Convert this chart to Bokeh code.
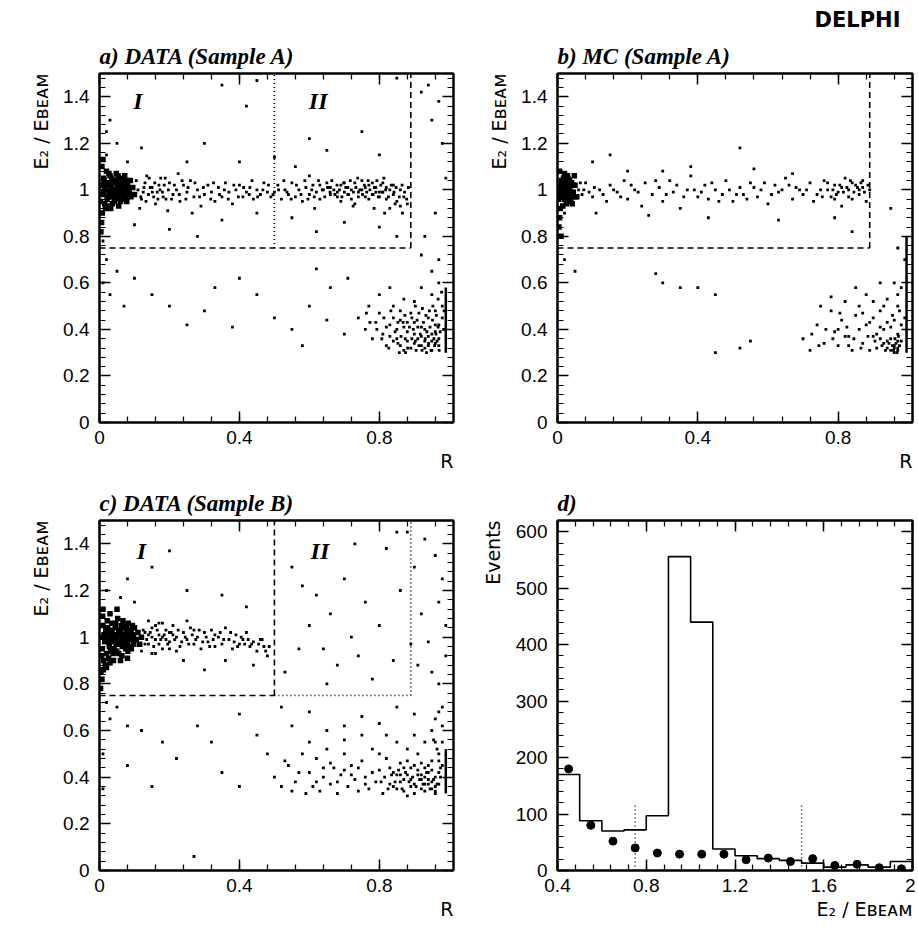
from bokeh.plotting import figure
from bokeh.models import Range1d, LinearAxis, SingleIntervalTicker, CustomJSTickFormatter, Title
from bokeh.layouts import gridplot
from bokeh.embed import file_html
from bokeh.resources import INLINE
from bokeh.core.properties import value

# ---------------- data ----------------
cut_E = 0.75
cut_R = 0.89
cut_R2 = 0.5
E_max = 1.5

# panel a) DATA (Sample A): (R, E2/Ebeam)
a_core = [(0.005,1.02),(0.01,0.98),(0.012,1.05),(0.015,0.94),(0.018,1.0),(0.02,1.08),(0.022,0.96),(0.025,1.03),(0.028,0.99),(0.03,1.06),(0.032,0.92),(0.035,1.01),(0.038,0.97),(0.04,1.04),(0.042,0.95),(0.045,1.0),(0.048,1.07),(0.05,0.98),(0.052,1.02),(0.055,0.93),(0.058,1.05),(0.06,0.99),(0.062,1.01),(0.065,0.96),(0.068,1.03),(0.07,0.98),(0.072,1.06),(0.075,1.0),(0.078,0.95),(0.08,1.02),(0.085,0.99),(0.088,1.04),(0.09,0.97),(0.095,1.01),(0.1,0.98),(0.008,0.9),(0.006,0.86),(0.004,0.82),(0.003,0.95),(0.007,1.1),(0.01,1.13),(0.015,1.01),(0.025,0.97),(0.035,1.05),(0.045,0.96),(0.055,1.0),(0.065,1.04),(0.012,0.99),(0.02,1.02),(0.03,0.99),(0.04,1.0),(0.05,1.04),(0.06,0.95),(0.07,1.01),(0.08,0.97),(0.017,0.92),(0.027,1.07),(0.037,0.94),(0.047,1.03),(0.057,0.97),(0.067,0.99),(0.077,1.04),(0.013,1.04),(0.023,0.93),(0.033,1.02),(0.043,0.98),(0.053,1.06),(0.063,1.02),(0.073,0.96),(0.083,1.0)]
a_band = [(0.11,1.0),(0.12,0.96),(0.13,1.03),(0.14,0.98),(0.15,1.01),(0.16,0.94),(0.17,1.02),(0.18,0.99),(0.19,0.96),(0.2,1.03),(0.21,0.98),(0.22,1.0),(0.23,0.95),(0.24,1.02),(0.25,0.99),(0.26,1.04),(0.27,0.97),(0.28,1.0),(0.29,0.93),(0.3,0.98),(0.31,1.02),(0.32,0.99),(0.33,0.95),(0.34,1.01),(0.35,0.97),(0.36,1.03),(0.37,0.99),(0.38,0.94),(0.39,1.0),(0.4,1.02),(0.41,0.97),(0.42,0.99),(0.43,1.01),(0.44,0.96),(0.45,1.0),(0.46,0.98),(0.47,1.03),(0.48,0.99),(0.49,0.97),(0.115,0.92),(0.135,1.06),(0.155,0.97),(0.175,1.05),(0.125,0.99),(0.145,1.01),(0.165,0.99),(0.185,1.02),(0.195,0.91),(0.225,1.07),(0.265,0.9),
          (0.5,0.99),(0.51,1.02),(0.52,0.96),(0.53,1.0),(0.54,0.98),(0.55,1.03),(0.56,0.97),(0.57,1.0),(0.58,0.95),(0.59,1.01),(0.6,0.98),(0.61,1.02),(0.62,0.99),(0.63,0.96),(0.64,1.0),(0.65,1.03),(0.66,0.98),(0.67,1.0),(0.68,0.97),(0.69,1.02),(0.7,0.99),(0.71,1.01),(0.72,0.96),(0.73,1.03),(0.74,0.99),(0.75,1.0),(0.76,0.97),(0.77,1.02),(0.78,0.98),(0.79,1.01),(0.8,0.99),(0.81,1.03),(0.82,0.96),(0.83,1.0),(0.84,0.98),(0.85,0.95),(0.86,1.0),(0.87,0.97),(0.88,0.94),(0.66,1.01),(0.68,0.99),(0.7,1.03),(0.72,1.0),(0.74,0.97),(0.76,1.01),(0.78,1.03),(0.8,0.97),(0.82,1.01),(0.84,1.02),(0.79,0.99),(0.75,1.04),(0.71,0.98),(0.63,1.02),(0.69,0.95),(0.77,0.96),(0.81,0.99),(0.86,0.93),(0.6,1.06),(0.83,0.92),(0.73,0.94)]
a_band_extra = [(0.105,1.04),(0.118,0.97),(0.127,1.01),(0.133,0.95),(0.142,1.05),(0.151,0.99),(0.158,1.03),(0.167,0.96),(0.173,1.0),(0.182,0.97),(0.188,1.05),(0.197,1.0),(0.206,0.96),(0.214,1.02),(0.228,0.98),(0.236,1.04),(0.247,0.96),(0.253,1.01),(0.273,1.03),(0.286,0.97),(0.297,1.01),(0.318,0.96),(0.326,1.03),(0.343,0.98),(0.357,1.0),(0.368,0.96),(0.384,1.02),(0.397,0.97),(0.412,1.01),(0.428,0.98),(0.436,1.04),(0.452,0.97),(0.467,1.0),(0.483,1.02),(0.496,0.98),(0.512,1.0),(0.527,1.04),(0.536,0.99),(0.548,0.96),(0.563,1.02),(0.576,0.98),(0.587,1.04),(0.596,0.96),(0.607,1.0),(0.614,0.97),(0.626,1.04),(0.637,1.0),(0.644,0.97),(0.652,1.01),(0.659,0.99),(0.664,1.04),(0.673,0.98),(0.679,1.02),(0.686,1.0),(0.693,0.97),(0.698,1.03),(0.704,1.01),(0.712,0.98),(0.717,1.04),(0.726,0.99),(0.733,1.01),(0.738,1.05),(0.744,1.0),(0.752,0.98),(0.757,1.02),(0.764,0.99),(0.768,1.04),(0.773,1.0),(0.782,0.98),(0.786,1.01),(0.793,1.04),(0.797,0.97),(0.804,1.02),(0.808,0.99),(0.813,1.05),(0.818,1.0),(0.826,0.97),(0.834,1.02),(0.842,0.99),(0.848,1.01),(0.857,0.97),(0.865,1.02),(0.872,0.99),(0.878,0.96),(0.883,1.01),(0.725,0.93),(0.785,0.92),(0.845,0.94),(0.615,0.92),(0.815,0.9),(0.866,0.9)]
a_low = [(0.74,0.45),(0.76,0.4),(0.77,0.5),(0.78,0.36),(0.79,0.43),(0.8,0.47),(0.81,0.38),(0.82,0.33),(0.83,0.42),(0.84,0.5),(0.85,0.36),(0.86,0.44),(0.87,0.31),(0.88,0.39),(0.89,0.47),(0.9,0.34),(0.91,0.41),(0.92,0.37),(0.93,0.32),(0.94,0.45),(0.95,0.35),(0.96,0.39),(0.97,0.33),(0.96,0.42),(0.95,0.31),(0.94,0.37),(0.93,0.4),(0.92,0.33),(0.91,0.36),(0.9,0.43),(0.89,0.32),(0.88,0.35),(0.87,0.41),(0.86,0.33),(0.85,0.4),(0.84,0.35),(0.83,0.37),(0.97,0.36),(0.96,0.34),(0.95,0.38),(0.94,0.33),(0.93,0.35),(0.92,0.41),(0.9,0.38),(0.88,0.43),(0.86,0.48),(0.84,0.45),(0.82,0.41),(0.8,0.55),(0.83,0.58),(0.9,0.52),(0.95,0.55),(0.97,0.6),(0.92,0.58),(0.87,0.53),(0.96,0.48),(0.98,0.45),(0.98,0.5),(0.97,0.42),(0.935,0.3),(0.905,0.31),(0.875,0.3)]
a_low_extra = [(0.845,0.39),(0.853,0.34),(0.862,0.37),(0.868,0.43),(0.874,0.36),(0.881,0.32),(0.886,0.41),(0.893,0.36),(0.897,0.4),(0.903,0.35),(0.908,0.44),(0.913,0.33),(0.917,0.38),(0.922,0.31),(0.926,0.43),(0.931,0.36),(0.936,0.39),(0.941,0.34),(0.945,0.41),(0.948,0.31),(0.952,0.44),(0.956,0.36),(0.958,0.33),(0.962,0.38),(0.965,0.35),(0.968,0.41),(0.971,0.31),(0.974,0.39),(0.963,0.46),(0.953,0.5),(0.943,0.48),(0.933,0.46),(0.923,0.49),(0.913,0.47),(0.903,0.5),(0.893,0.45),(0.873,0.46),(0.853,0.43),(0.833,0.48),(0.813,0.45),(0.793,0.4),(0.773,0.43),(0.763,0.47),(0.807,0.36),(0.827,0.32),(0.857,0.3),(0.968,0.53),(0.978,0.56),(0.985,0.48),(0.984,0.4)]
a_sparse = [(0.02,1.25),(0.05,1.2),(0.12,1.18),(0.3,1.2),(0.4,1.12),(0.45,1.47),(0.35,1.45),(0.42,1.36),(0.6,1.22),(0.75,1.25),(0.56,1.1),(0.65,1.17),(0.8,1.15),(0.85,1.48),(0.92,1.42),(0.95,1.3),(0.98,1.2),(0.94,1.45),(0.97,1.38),(0.99,1.05),(0.96,0.9),(0.93,0.8),(0.97,0.7),(0.95,0.65),(0.92,0.72),(0.02,1.15),(0.03,1.3),(0.08,1.12),(0.25,1.12),(0.5,1.14),
            (0.1,0.85),(0.2,0.83),(0.35,0.87),(0.55,0.88),(0.62,0.82),(0.7,0.86),(0.8,0.84),(0.85,0.8),(0.45,0.9),(0.28,0.8),
            (0.02,0.7),(0.05,0.65),(0.1,0.62),(0.15,0.55),(0.2,0.5),(0.3,0.48),(0.33,0.58),(0.4,0.62),(0.45,0.55),(0.5,0.45),(0.55,0.4),(0.6,0.5),(0.65,0.44),(0.7,0.38),(0.66,0.58),(0.07,0.5),(0.25,0.42),(0.38,0.41),(0.58,0.33),(0.62,0.66),(0.71,0.62),(0.01,0.78),(0.01,0.6),(0.03,0.55)]
a_pile = (0.99, 0.30, 0.58)   # R = 1 pile-up: R, E from, E to

# panel b) MC (Sample A)
b_core = [(0.005,1.0),(0.01,0.97),(0.012,1.04),(0.015,0.93),(0.018,1.01),(0.02,1.07),(0.022,0.98),(0.025,1.02),(0.028,0.95),(0.03,1.05),(0.032,0.99),(0.035,1.01),(0.038,0.96),(0.04,1.03),(0.045,0.99),(0.05,1.02),(0.055,0.97),(0.006,1.08),(0.008,0.92),(0.01,1.02),(0.014,0.99),(0.017,1.05),(0.02,0.96),(0.024,1.0),(0.027,1.03),(0.03,0.97),(0.034,1.04),(0.042,0.94),(0.048,1.06),(0.006,0.88),(0.004,0.84),(0.01,0.8),(0.003,0.96),(0.015,0.97),(0.02,1.0),(0.025,0.94),(0.03,1.0),(0.035,0.97),(0.04,0.99),(0.012,1.01),(0.008,0.98),(0.045,1.02),(0.05,0.97),(0.028,1.06),(0.016,1.03)]
b_band = [(0.06,1.0),(0.07,0.98),(0.08,1.03),(0.1,0.97),(0.12,1.0),(0.14,0.95),(0.15,1.02),(0.17,0.99),(0.19,1.04),(0.2,0.96),(0.22,1.0),(0.24,0.93),(0.25,1.03),(0.27,0.98),(0.29,1.01),(0.3,0.95),(0.32,1.04),(0.33,0.99),(0.35,0.92),(0.37,1.0),(0.38,1.06),(0.4,0.97),(0.42,1.02),(0.43,0.96),(0.45,1.0),(0.47,0.98),(0.48,1.04),(0.5,0.95),(0.52,1.01),(0.53,0.98),(0.55,1.03),(0.57,0.97),(0.58,1.0),(0.6,0.94),(0.62,1.02),(0.63,0.99),(0.65,1.05),(0.67,0.96),(0.68,1.01),(0.7,0.98),(0.72,1.03),(0.73,0.95),(0.75,1.0),(0.76,1.04),(0.78,0.97),(0.79,1.02),(0.8,0.99),(0.81,0.93),(0.82,1.05),(0.83,1.0),(0.84,0.96),(0.85,1.02),(0.86,0.98),(0.87,1.04),(0.88,0.95),(0.89,1.0),(0.77,1.0),(0.81,1.01),(0.84,1.03),(0.86,1.0),(0.74,0.98),(0.69,1.0),(0.79,0.96),(0.83,0.97),(0.87,1.01),(0.11,0.9),(0.26,0.89),(0.43,0.88),(0.63,0.87),(0.79,0.88),(0.84,0.82),(0.1,1.12),(0.15,1.15),(0.38,1.1),(0.52,1.18),(0.3,1.08),(0.56,1.09),(0.67,1.07),(0.2,1.08),
          (0.065,1.03),(0.075,1.0),(0.09,0.99),(0.105,1.01),(0.13,0.98),(0.16,1.0),(0.18,0.97),(0.21,1.02),(0.23,0.99),(0.28,1.04),(0.31,0.98),(0.34,1.02),(0.36,0.97),(0.39,1.0),(0.41,0.99),(0.44,1.03),(0.46,0.95),(0.49,1.0),(0.51,0.98),(0.54,0.96),(0.56,1.01),(0.59,1.03),(0.61,0.98),(0.64,1.0),(0.66,1.02),(0.71,1.0),(0.755,0.97),(0.77,1.03),(0.785,1.0),(0.795,0.98),(0.805,1.02),(0.815,0.99),(0.825,1.01),(0.835,1.04),(0.845,0.99),(0.855,1.01),(0.865,1.03),(0.875,0.99),(0.885,1.02)]
b_low = [(0.7,0.36),(0.72,0.31),(0.74,0.42),(0.76,0.34),(0.78,0.48),(0.79,0.39),(0.8,0.33),(0.81,0.44),(0.82,0.52),(0.83,0.37),(0.84,0.31),(0.85,0.46),(0.86,0.4),(0.87,0.34),(0.88,0.55),(0.89,0.43),(0.9,0.37),(0.91,0.32),(0.92,0.48),(0.93,0.4),(0.94,0.35),(0.95,0.31),(0.96,0.44),(0.97,0.38),(0.96,0.33),(0.95,0.36),(0.97,0.32),(0.94,0.32),(0.93,0.34),(0.96,0.3),(0.98,0.35),(0.97,0.5),(0.98,0.58),(0.96,0.6),(0.92,0.6),(0.85,0.58),(0.78,0.54),(0.75,0.5),(0.9,0.52),(0.99,0.45),(0.8,0.4),(0.87,0.47),(0.94,0.53),(0.83,0.33),(0.89,0.31),(0.92,0.36),(0.95,0.41),(0.97,0.35),(0.91,0.38),
         (0.955,0.33),(0.96,0.32),(0.965,0.34),(0.97,0.31),(0.975,0.33),(0.962,0.36),(0.968,0.3),(0.972,0.37),(0.958,0.31),(0.945,0.34),(0.935,0.31),(0.925,0.33),(0.905,0.35),(0.885,0.37),(0.865,0.32),(0.845,0.36),(0.825,0.41),(0.805,0.47),(0.785,0.36),(0.765,0.4),(0.745,0.33),(0.725,0.38),(0.98,0.42),(0.975,0.48),(0.97,0.55),(0.955,0.46),(0.94,0.43),(0.92,0.41),(0.88,0.42),(0.86,0.5),(0.82,0.37),(0.9,0.45),(0.93,0.5)]
b_sparse = [(0.02,0.7),(0.05,0.65),(0.3,0.6),(0.28,0.64),(0.35,0.58),(0.45,0.55),(0.4,0.58),(0.55,0.35),(0.52,0.32),(0.45,0.3),(0.97,0.75),(0.95,0.92),(0.02,0.9),(0.99,0.7)]
b_pile = (0.995, 0.30, 0.80)

# panel c) DATA (Sample B)
c_core = [(0.005,1.0),(0.008,0.95),(0.01,1.05),(0.012,0.9),(0.015,0.98),(0.018,1.03),(0.02,0.93),(0.022,1.07),(0.025,1.0),(0.028,0.96),(0.03,1.02),(0.032,0.94),(0.035,1.06),(0.038,0.99),(0.04,1.01),(0.042,0.95),(0.045,1.04),(0.048,0.97),(0.05,1.0),(0.052,1.08),(0.055,0.93),(0.058,1.02),(0.06,0.98),(0.062,1.05),(0.065,0.96),(0.068,1.01),(0.07,0.99),(0.072,1.04),(0.075,0.95),(0.078,1.02),(0.08,0.98),(0.082,1.06),(0.085,1.0),(0.088,0.96),(0.09,1.03),(0.092,0.99),(0.095,1.01),(0.098,0.97),(0.1,1.04),(0.105,0.99),(0.11,1.02),(0.115,0.97),(0.12,1.0),(0.006,0.92),(0.009,1.09),(0.013,1.01),(0.016,0.88),(0.019,0.99),(0.023,1.04),(0.026,0.91),(0.029,1.0),(0.033,0.98),(0.036,1.03),(0.039,0.93),(0.043,1.0),(0.046,1.06),(0.049,0.94),(0.053,1.01),(0.057,0.97),(0.061,1.03),(0.064,0.92),(0.067,1.07),(0.071,1.0),(0.074,0.97),(0.077,1.05),(0.081,0.94),(0.084,1.02),(0.087,0.99),(0.091,0.95),(0.094,1.05),(0.097,1.0),(0.004,0.85),(0.007,0.82),(0.003,0.78),(0.011,0.86),(0.02,0.87),(0.03,0.89),(0.04,0.9),(0.01,1.12),(0.03,1.1),(0.05,1.12),(0.015,1.01),(0.025,0.98),(0.035,1.01),(0.045,0.99),(0.055,1.03),(0.065,1.0),(0.075,0.99),(0.085,1.03),(0.06,0.9),(0.08,0.91)]
c_band = [(0.13,1.02),(0.14,0.97),(0.15,1.04),(0.16,0.99),(0.17,1.01),(0.18,0.95),(0.19,1.03),(0.2,0.98),(0.21,1.05),(0.22,1.0),(0.23,0.96),(0.24,1.02),(0.25,0.99),(0.26,1.04),(0.27,0.97),(0.28,1.0),(0.29,0.95),(0.3,1.02),(0.31,0.98),(0.32,1.03),(0.33,0.96),(0.34,1.0),(0.35,0.97),(0.36,1.04),(0.37,0.99),(0.38,0.95),(0.39,1.01),(0.4,0.97),(0.41,0.99),(0.42,1.02),(0.43,0.96),(0.44,0.98),(0.45,0.94),(0.46,0.99),(0.47,0.96),(0.48,0.92),(0.14,1.07),(0.16,0.93),(0.18,1.06),(0.2,1.02),(0.22,0.94),(0.25,1.07),(0.15,1.0),(0.17,0.97),(0.19,0.99),(0.21,1.01),(0.27,1.03),(0.33,1.01),(0.12,0.94),(0.24,0.9),(0.36,0.9),(0.44,0.88),(0.3,0.86),
          (0.125,1.03),(0.135,0.99),(0.145,1.02),(0.155,0.96),(0.165,1.03),(0.175,0.99),(0.185,1.01),(0.195,0.97),(0.205,1.02),(0.215,0.99),(0.225,1.03),(0.235,0.98),(0.245,1.0),(0.255,0.97),(0.265,1.01),(0.275,0.99),(0.285,1.03),(0.295,0.98),(0.305,1.0),(0.315,0.96),(0.325,0.99),(0.345,1.02),(0.355,0.99),(0.375,1.02),(0.385,0.98),(0.395,0.96),(0.405,1.0),(0.415,0.97),(0.425,0.99),(0.435,0.97),(0.455,0.97),(0.465,0.99),(0.475,0.94),(0.485,0.96),(0.14,1.01),(0.16,1.05),(0.18,1.0),(0.2,0.95),(0.13,0.97),(0.15,0.93),(0.17,1.06)]
c_sparse = [(0.02,1.2),(0.08,1.25),(0.15,1.3),(0.2,1.37),(0.25,1.2),(0.35,1.18),(0.1,1.15),(0.42,1.13),(0.06,1.17),
            (0.55,1.3),(0.58,1.22),(0.6,1.05),(0.62,1.18),(0.64,0.95),(0.66,1.1),(0.68,0.88),(0.7,1.25),(0.72,1.0),(0.74,0.92),(0.76,1.15),(0.78,0.82),(0.8,1.05),(0.82,1.38),(0.84,0.9),(0.86,1.2),(0.88,1.45),(0.9,1.3),(0.92,1.1),(0.94,0.98),(0.96,1.35),(0.98,1.25),(0.95,0.85),(0.97,0.8),(0.93,1.42),(0.99,1.05),(0.91,0.88),(0.53,0.85),(0.57,0.95),(0.65,0.8),(0.73,1.4),(0.85,1.45),(0.89,0.97),(0.97,1.15),(0.99,0.92),(0.98,0.7),(0.96,0.65),
            (0.02,0.72),(0.03,0.65),(0.05,0.7),(0.08,0.62),(0.12,0.6),(0.18,0.55),(0.22,0.48),(0.28,0.62),(0.32,0.55),(0.35,0.42),(0.4,0.67),(0.45,0.58),(0.48,0.5),(0.52,0.7),(0.55,0.62),(0.6,0.68),(0.65,0.6),(0.7,0.56),(0.75,0.66),(0.8,0.63),(0.85,0.7),(0.9,0.67),(0.27,0.06),(0.08,0.45),(0.15,0.36),(0.4,0.36),(0.01,0.5),(0.01,0.35)]
c_low = [(0.5,0.4),(0.52,0.36),(0.54,0.45),(0.56,0.38),(0.58,0.5),(0.59,0.33),(0.6,0.42),(0.61,0.36),(0.62,0.48),(0.63,0.34),(0.64,0.4),(0.65,0.52),(0.66,0.37),(0.67,0.44),(0.68,0.33),(0.69,0.41),(0.7,0.5),(0.71,0.36),(0.72,0.45),(0.73,0.39),(0.74,0.34),(0.75,0.47),(0.76,0.4),(0.77,0.35),(0.78,0.52),(0.79,0.38),(0.8,0.43),(0.81,0.33),(0.82,0.48),(0.83,0.37),(0.84,0.42),(0.85,0.35),(0.86,0.46),(0.87,0.39),(0.88,0.32),(0.89,0.44),(0.9,0.37),(0.91,0.5),(0.92,0.41),(0.93,0.34),(0.94,0.45),(0.95,0.38),(0.96,0.33),(0.97,0.42),(0.96,0.36),(0.95,0.47),(0.94,0.37),(0.93,0.4),(0.92,0.35),(0.91,0.43),(0.9,0.33),(0.89,0.39),(0.88,0.41),(0.87,0.34),(0.86,0.38),(0.85,0.41),(0.84,0.36),(0.83,0.44),(0.97,0.37),(0.96,0.4),(0.95,0.35),(0.94,0.42),(0.93,0.37),(0.92,0.39),(0.98,0.45),(0.97,0.5),(0.96,0.55),(0.95,0.6),(0.93,0.55),(0.9,0.58),(0.88,0.52),(0.85,0.55),(0.82,0.58),(0.98,0.62),(0.97,0.68),(0.75,0.58),(0.7,0.62),
         (0.805,0.38),(0.815,0.4),(0.825,0.35),(0.835,0.41),(0.845,0.38),(0.855,0.43),(0.865,0.35),(0.875,0.42),(0.885,0.38),(0.895,0.4),(0.905,0.36),(0.915,0.39),(0.925,0.37),(0.935,0.42),(0.945,0.35),(0.955,0.39),(0.965,0.37),(0.975,0.4),(0.96,0.34),(0.95,0.43),(0.94,0.39),(0.93,0.44),(0.92,0.46),(0.91,0.41),(0.9,0.45),(0.89,0.36),(0.88,0.47),(0.87,0.44),(0.86,0.41),(0.975,0.44),(0.97,0.47),(0.965,0.52),(0.98,0.55),(0.955,0.56),(0.62,0.38),(0.64,0.44),(0.66,0.46),(0.68,0.38),(0.72,0.41),(0.74,0.44),(0.76,0.37),(0.78,0.42),(0.57,0.42),(0.55,0.34),(0.53,0.47),(0.6,0.55),(0.7,0.43),(0.8,0.5)]
c_pile = (0.99, 0.33, 0.52)

# panel d) histogram of E2/Ebeam
bin_left = [0.4,0.5,0.6,0.7,0.8,0.9,1.0,1.1,1.2,1.3,1.4,1.5,1.6,1.7,1.8,1.9]
bin_right_edge = 2.0
mc_counts = [170,88,70,72,97,556,440,38,26,21,18,13,6,10,6,16]
dot_x = [0.45,0.55,0.65,0.75,0.85,0.95,1.05,1.15,1.25,1.35,1.45,1.55,1.65,1.75,1.85,1.95]
dot_y = [180,80,52,40,31,29,29,29,19,22,16,21,9,11,5,3]
d_cuts = [0.75, 1.5]
d_cut_marker_height = [120, 115]

# ---------------- styling ----------------
TICK_FONT = "Liberation Sans"
SERIF = "Liberation Serif"
LABEL_FONT = "DejaVu Sans"
ELABEL = "E\u2082 / E\u0299\u1d07\u1d00\u1d0d"
fmt_code = "return String(Number(tick.toFixed(3)));"


def make_fig(xr, yr, bl, br, bt, bb, width, height):
    p = figure(width=width, height=height, x_range=Range1d(*xr), y_range=Range1d(*yr),
               output_backend="svg", toolbar_location=None,
               min_border_left=bl, min_border_right=br, min_border_top=bt, min_border_bottom=bb)
    p.grid.visible = False
    p.outline_line_color = "black"
    p.outline_line_width = 2
    p.background_fill_color = "white"
    p.border_fill_color = "white"
    p.title.visible = False
    return p


def setup_axes(p, xint, yint, xlabel, ylabel):
    bottom = p.below[0]
    left = p.left[0]
    top = LinearAxis()
    right = LinearAxis()
    p.add_layout(top, "above")
    p.add_layout(right, "right")
    for ax, interval in ((bottom, xint), (top, xint), (left, yint), (right, yint)):
        ax.ticker = SingleIntervalTicker(interval=interval, num_minor_ticks=5)
        ax.major_tick_in = 11
        ax.major_tick_out = 0
        ax.minor_tick_in = 6
        ax.minor_tick_out = 0
        ax.axis_line_width = 2
        ax.major_tick_line_width = 1.5
        ax.minor_tick_line_width = 1.2
        ax.axis_line_color = "black"
        ax.major_tick_line_color = "black"
        ax.minor_tick_line_color = "black"
        ax.axis_label = None
    for ax in (top, right):
        ax.major_label_text_color = None
        ax.major_label_text_alpha = 0
        ax.major_label_text_font_size = "1px"
        ax.major_label_standoff = 0
    for ax in (bottom, left):
        ax.formatter = CustomJSTickFormatter(code=fmt_code)
        ax.major_label_text_font = TICK_FONT
        ax.major_label_text_font_size = "19px"
        ax.major_label_text_color = "black"
    bottom.major_label_standoff = 8
    left.major_label_standoff = 10
    p.add_layout(Title(text=xlabel, align="right", text_font=LABEL_FONT, text_font_style="normal",
                       text_font_size="19px", text_color="black", standoff=2), "below")
    p.add_layout(Title(text=ylabel, align="right", text_font=LABEL_FONT, text_font_style="normal",
                       text_font_size="19px", text_color="black", standoff=18), "left")


def add_title(p, text, font, style, size, align="left", offset=0):
    p.add_layout(Title(text=text, align=align, text_font=font, text_font_style=style,
                       text_font_size=size, text_color="black", offset=offset), "above")


def points(groups):
    xs, ys = [], []
    for g in groups:
        for r, e in g:
            xs.append(r)
            ys.append(e)
    return xs, ys


def scatter_panel(p, core, rest, pile):
    cx, cy = points([core])
    rx, ry = points(rest)
    p.scatter(cx, cy, size=5.5, marker="square", color="black", line_width=0)
    p.scatter(rx, ry, size=2.8, marker="square", color="black", line_width=0)
    p.segment(x0=[pile[0]], y0=[pile[1]], x1=[pile[0]], y1=[pile[2]], line_color="black", line_width=2.5)


def region_text(p, txt, x, y):
    p.text(x=[x], y=[y], text=[txt], text_font=value(SERIF), text_font_style="bold italic",
           text_font_size="24px", text_align="center", text_baseline="middle", text_color="black")


XR = (0, 1.012)
YR = (0, 1.5)
TITLE_SIZE = "23px"

# a)
pa = make_fig(XR, YR, 99, 5, 72, 54, 458, 476)
setup_axes(pa, 0.4, 0.2, "R", ELABEL)
add_title(pa, "a) DATA (Sample A)", SERIF, "bold italic", TITLE_SIZE)
scatter_panel(pa, a_core, [a_band, a_band_extra, a_low, a_low_extra, a_sparse], a_pile)
pa.segment(x0=[0], y0=[cut_E], x1=[cut_R], y1=[cut_E], line_dash="6 4", line_width=1.6, line_color="black")
pa.segment(x0=[cut_R], y0=[cut_E], x1=[cut_R], y1=[E_max], line_dash="6 4", line_width=1.6, line_color="black")
pa.segment(x0=[cut_R2], y0=[cut_E], x1=[cut_R2], y1=[E_max], line_dash="1 3", line_width=1.6, line_color="black")
region_text(pa, "I", 0.11, 1.38)
region_text(pa, "II", 0.625, 1.38)

# b)
pb = make_fig(XR, YR, 99, 3, 72, 54, 457, 476)
setup_axes(pb, 0.4, 0.2, "R", ELABEL)
add_title(pb, "b) MC (Sample A)", SERIF, "bold italic", TITLE_SIZE)
add_title(pb, "DELPHI", "DejaVu Sans", "bold", "21px", align="right", offset=12)
scatter_panel(pb, b_core, [b_band, b_low, b_sparse], b_pile)
pb.segment(x0=[0], y0=[cut_E], x1=[cut_R], y1=[cut_E], line_dash="6 4", line_width=1.6, line_color="black")
pb.segment(x0=[cut_R], y0=[cut_E], x1=[cut_R], y1=[E_max], line_dash="6 4", line_width=1.6, line_color="black")

# c)
pc = make_fig(XR, YR, 99, 5, 44, 60, 458, 454)
setup_axes(pc, 0.4, 0.2, "R", ELABEL)
add_title(pc, "c) DATA (Sample B)", SERIF, "bold italic", TITLE_SIZE)
scatter_panel(pc, c_core, [c_band, c_low, c_sparse], c_pile)
pc.segment(x0=[0], y0=[cut_E], x1=[cut_R2], y1=[cut_E], line_dash="6 4", line_width=1.6, line_color="black")
pc.segment(x0=[cut_R2], y0=[cut_E], x1=[cut_R2], y1=[E_max], line_dash="6 4", line_width=1.6, line_color="black")
pc.segment(x0=[cut_R2], y0=[cut_E], x1=[cut_R], y1=[cut_E], line_dash="1 3", line_width=1.6, line_color="black")
pc.segment(x0=[cut_R], y0=[cut_E], x1=[cut_R], y1=[E_max], line_dash="1 3", line_width=1.6, line_color="black")
region_text(pc, "I", 0.12, 1.37)
region_text(pc, "II", 0.63, 1.37)

# d)
pd = make_fig((0.4, 2.0), (0, 620), 99, 3, 44, 60, 457, 454)
setup_axes(pd, 0.4, 100, ELABEL, "Events")
add_title(pd, "d)", SERIF, "bold italic", TITLE_SIZE)
step_x = bin_left + [bin_right_edge]
step_y = mc_counts + [mc_counts[-1]]
pd.step(step_x, step_y, mode="after", line_color="black", line_width=1.6)
pd.scatter(dot_x, dot_y, size=8, color="black")
pd.segment(x0=d_cuts, y0=[0, 0], x1=d_cuts, y1=d_cut_marker_height, line_dash="1 3", line_width=1.4, line_color="black")

grid = gridplot([[pa, pb], [pc, pd]], toolbar_location=None)

open("out.html", "w").write(file_html(grid, INLINE))
